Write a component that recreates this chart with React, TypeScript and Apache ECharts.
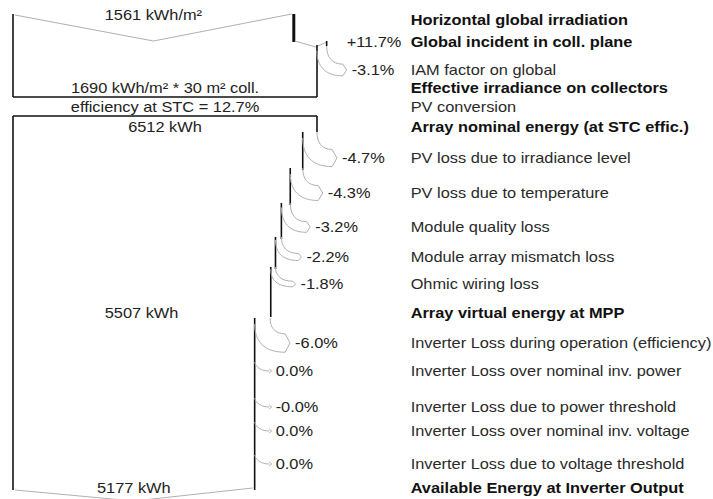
import React, { useEffect, useRef } from "react";
import * as echarts from "echarts";

// ---- data ----
const rowLabels = [
  "Horizontal global irradiation",
  "Global incident in coll. plane",
  "IAM factor on global",
  "Effective irradiance on collectors",
  "PV conversion",
  "Array nominal energy (at STC effic.)",
  "PV loss due to irradiance level",
  "PV loss due to temperature",
  "Module quality loss",
  "Module array mismatch loss",
  "Ohmic wiring loss",
  "Array virtual energy at MPP",
  "Inverter Loss during operation (efficiency)",
  "Inverter Loss over nominal inv. power",
  "Inverter Loss due to power threshold",
  "Inverter Loss over nominal inv. voltage",
  "Inverter Loss due to voltage threshold",
  "Available Energy at Inverter Output",
];
const rowBold = [1, 1, 0, 1, 0, 1, 0, 0, 0, 0, 0, 1, 0, 0, 0, 0, 0, 1];
const rowChanges = ["", "+11.7%", "-3.1%", "", "", "", "-4.7%", "-4.3%", "-3.2%", "-2.2%", "-1.8%", "", "-6.0%", "0.0%", "-0.0%", "0.0%", "0.0%", ""];
const irradiationValues = [1561, 1690]; // kWh/m²: horizontal, effective
const collectorArea = 30; // m²
const stcEfficiency = 12.7; // %
const energyValues = [6512, 5507, 5177]; // kWh: nominal, MPP, inverter output

// ---- layout (vertical row positions of the diagram) ----
const rowPositions = [20, 42, 70, 88, 107, 127, 158, 193, 227, 257, 284, 313, 343, 371, 407, 431, 464, 488];

const FONT = '"Liberation Sans", Arial, sans-serif';
const FS = 14;
const SX = 1.17;

// flow widths per row, in kWh units (irradiation rescaled so 1690 kWh/m² matches 6512 kWh)
const irrScale = energyValues[0] / irradiationValues[1];
const totalAt: Record<number, number> = {
  0: irradiationValues[0] * irrScale,
  3: irradiationValues[1] * irrScale,
  5: energyValues[0],
  11: energyValues[1],
  17: energyValues[2],
};
const edges: number[] = [];
{
  let cur = 0;
  rowLabels.forEach((_, i) => {
    if (totalAt[i] !== undefined) cur = totalAt[i];
    else if (rowChanges[i]) cur = cur * (1 + parseFloat(rowChanges[i]) / 100);
    edges.push(cur);
  });
}
const isTotal = (i: number) => totalAt[i] !== undefined;
const isNonZero = (i: number) => !!rowChanges[i] && parseFloat(rowChanges[i]) !== 0;

function arrowPath(xp: number, xn: number, ys: number, yl: number, tip: number) {
  const w = xp - xn;
  if (w < 0.6) {
    const ex = tip - 2.5;
    return `M${xn} ${yl - 9} C${xn + 1} ${yl - 4} ${xn + (ex - xn) * 0.45} ${yl} ${ex} ${yl} M${ex} ${yl - 2} L${tip} ${yl} L${ex} ${yl + 2}`;
  }
  const hw = Math.max(2.5, w * 0.6);
  const ex = tip - Math.min(5, 1.5 + hw * 0.4);
  const yo = yl - hw;
  const yi = yl + hw;
  const ysi = ys + Math.min(6, w * 0.5);
  return (
    `M${xp} ${ys} C${xp} ${ys + (yo - ys) * 0.6} ${xp + (ex - xp) * 0.3} ${yo} ${ex} ${yo} ` +
    `L${tip} ${yl} L${ex} ${yi} ` +
    `C${xn + (ex - xn) * 0.3} ${yi} ${xn} ${ysi + (yi - ysi) * 0.6} ${xn} ${ysi}`
  );
}

export default function App() {
  const ref = useRef<HTMLDivElement>(null);
  useEffect(() => {
    if (!ref.current) return;
    const chart = echarts.init(ref.current, null, { renderer: "svg" });
    const renderItem = (_params: any, api: any) => {
      const X = (e: number) => api.coord([e, 0])[0];
      const Y = (v: number) => api.coord([0, v])[1];
      const r = rowPositions;
      const kids: any[] = [];
      const BLACK = "#111";
      const GRAY = "#b0b0b0";
      const poly = (pts: number[][], stroke: string, lw: number) =>
        kids.push({ type: "polyline", shape: { points: pts }, style: { stroke, lineWidth: lw, fill: null } });
      const vline = (e: number, y0: number, y1: number, lw = 1.6) =>
        poly([[X(e), Y(y0)], [X(e), Y(y1)]], BLACK, lw);
      const text = (str: string, x: number, y: number, align: string, bold: boolean, color = "#222") =>
        kids.push({
          type: "text",
          x,
          y,
          scaleX: SX,
          style: {
            text: str,
            fontFamily: FONT,
            fontSize: FS,
            fontWeight: bold ? "bold" : "normal",
            fill: color,
            align,
            verticalAlign: "middle",
          },
        });
      const arrow = (d: string) =>
        kids.push({ type: "path", shape: { pathData: d }, style: { stroke: GRAY, fill: "none", lineWidth: 1 } });

      // ---- irradiation part ----
      const e0 = edges[0];
      const e1 = edges[1];
      const e3 = edges[3];
      const yTop = r[0] - 6;
      const yBot = r[3] + 9;
      vline(0, yTop, yBot);
      poly([[X(0) + 2, Y(yTop + 1)], [X(e0 / 2), Y(r[1] - 1)], [X(e0) - 2, Y(yTop)]], GRAY, 1);
      vline(e0, yTop, r[1], 3);
      poly([[X(e0) + 1, Y(r[1] - 1)], [X(e3) - 1, Y(r[1] + 5)], [X(e1) - 1, Y(r[1] + 0.5)]], GRAY, 1);
      vline(e1, r[1] - 1, r[1] + 4);
      vline(e3, r[1] + 3, yBot);
      poly([[X(0), Y(yBot)], [X(e3), Y(yBot)]], BLACK, 1.6);
      text(rowChanges[1], X(e1) + 20, Y(r[1]), "left", false);
      {
        const tip = X(e1) + 20;
        arrow(arrowPath(X(e1), X(edges[2]), Y(r[1] + 4), Y(r[2]), tip));
        text(rowChanges[2], tip + 5, Y(r[2]), "left", false);
      }
      text(`${irradiationValues[0]} kWh/m²`, X(e0 / 2), Y(yTop + 1), "center", false);
      text(`${irradiationValues[1]} kWh/m² * ${collectorArea} m² coll.`, X(e3 / 2), Y(r[3]), "center", false);
      text(`efficiency at STC = ${stcEfficiency}%`, X(e3 / 2), Y(r[4]), "center", false);

      // ---- energy part ----
      const yTop2 = r[5] - 11;
      poly([[X(0), Y(yTop2)], [X(edges[5]), Y(yTop2)]], BLACK, 1.6);
      vline(0, yTop2, r[17] + 2);
      vline(edges[5], yTop2, r[5] + 5);
      let prevEnd = 0;
      for (let i = 6; i < rowLabels.length; i++) {
        if (!rowChanges[i] || isTotal(i)) continue;
        const xp = X(edges[i - 1]);
        const xn = X(edges[i]);
        const w = xp - xn;
        if (w < 0.6) {
          const tip = xn + 17;
          arrow(arrowPath(xn, xn, 0, Y(r[i]), tip));
          text(rowChanges[i], tip + 4, Y(r[i]), "left", false);
          continue;
        }
        const ys = isTotal(i - 1) ? r[i - 1] + 5 : prevEnd - 2;
        let j = i + 1;
        while (j < rowLabels.length && !isTotal(j) && !isNonZero(j)) j++;
        const ye = isTotal(j) ? r[j] + (j === rowLabels.length - 1 ? 2 : 4) : r[i] + 12;
        vline(edges[i], ys, ye);
        prevEnd = ye;
        const tip = xp + 20;
        arrow(arrowPath(xp, xn, Y(ys), Y(r[i]), tip));
        text(rowChanges[i], tip + 5, Y(r[i]), "left", false);
      }
      text(`${energyValues[0]} kWh`, X(energyValues[0] / 2), Y(r[5]), "center", false);
      text(`${energyValues[1]} kWh`, X(energyValues[1] / 2), Y(r[11]), "center", false);
      text(`${energyValues[2]} kWh`, X(energyValues[2] / 2), Y(r[17]), "center", false);
      poly(
        [[X(0) + 2, Y(r[17] + 2)], [X(energyValues[2] / 2), Y(r[17] + 13)], [X(edges[16]) - 2, Y(r[17])]],
        GRAY,
        1
      );

      // ---- right column labels ----
      const colX = X(e1) + 84;
      rowLabels.forEach((lab, i) => {
        text(lab, colX, Y(r[i]), "left", !!rowBold[i], rowBold[i] ? "#111" : "#2a2a2a");
      });

      return { type: "group", children: kids };
    };

    chart.setOption({
      animation: false,
      grid: { left: 13, top: 0, width: 304, height: 499 },
      xAxis: { type: "value", min: 0, max: energyValues[0], show: false },
      yAxis: { type: "value", min: 0, max: 499, inverse: true, show: false },
      series: [
        {
          type: "custom",
          coordinateSystem: "cartesian2d",
          renderItem,
          data: [[0, 0]],
          clip: false,
          silent: true,
        },
      ],
    });
    return () => chart.dispose();
  }, []);
  return (
    <div
      ref={ref}
      style={{ position: "absolute", left: 0, top: 0, width: 713, height: 499, background: "#fff" }}
    />
  );
}
